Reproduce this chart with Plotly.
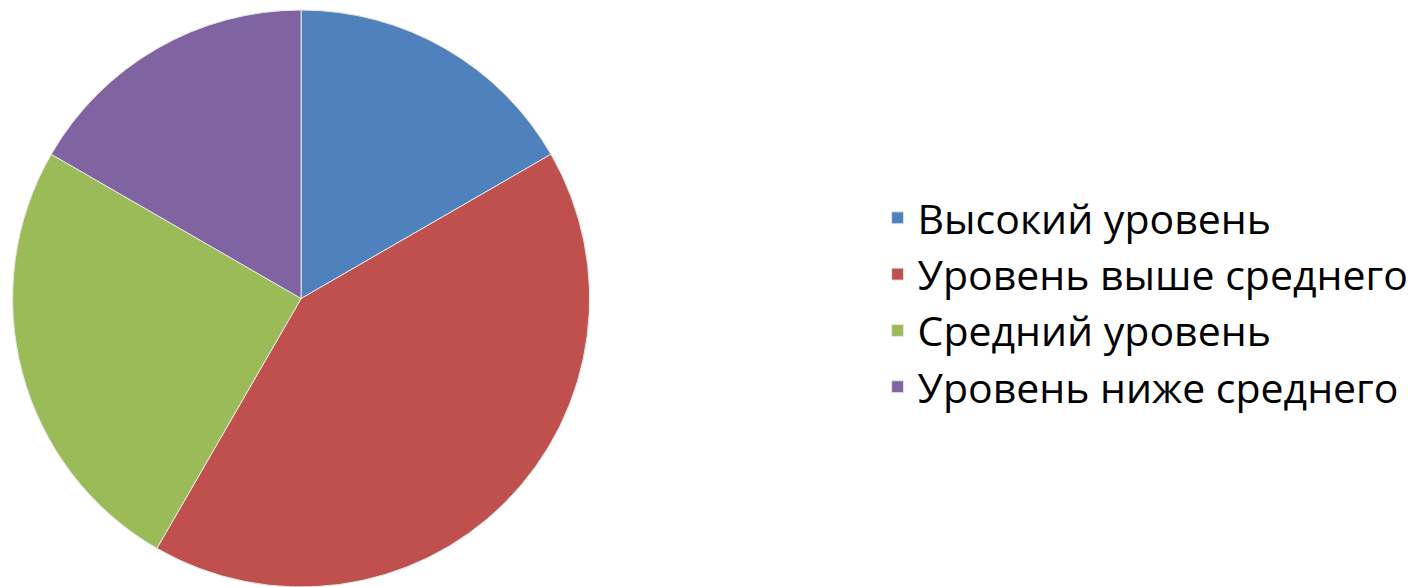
import plotly.graph_objects as go

labels = ["Высокий уровень", "Уровень выше среднего", "Средний уровень", "Уровень ниже среднего"]
values = [2, 5, 3, 2]
colors = ["#4F81BD", "#C0504D", "#9BBB59", "#8064A2"]

fig = go.Figure(go.Pie(
    labels=labels,
    values=values,
    sort=False,
    direction="clockwise",
    rotation=0,
    textinfo="none",
    hoverinfo="label+value",
    marker=dict(colors=colors, line=dict(color="#E8E8E8", width=1)),
    domain=dict(x=[0.003, 0.4116], y=[0.0136, 0.9966]),
))

fig.update_layout(
    width=1414, height=587,
    margin=dict(l=0, r=0, t=0, b=0),
    paper_bgcolor="white",
    plot_bgcolor="white",
    showlegend=True,
    legend=dict(
        x=0.615, y=0.498, xanchor="left", yanchor="middle",
        font=dict(family="Open Sans", size=41, color="#000000"),
        bgcolor="rgba(0,0,0,0)",
        itemwidth=30,
    ),
)

fig.write_html("out.html")
